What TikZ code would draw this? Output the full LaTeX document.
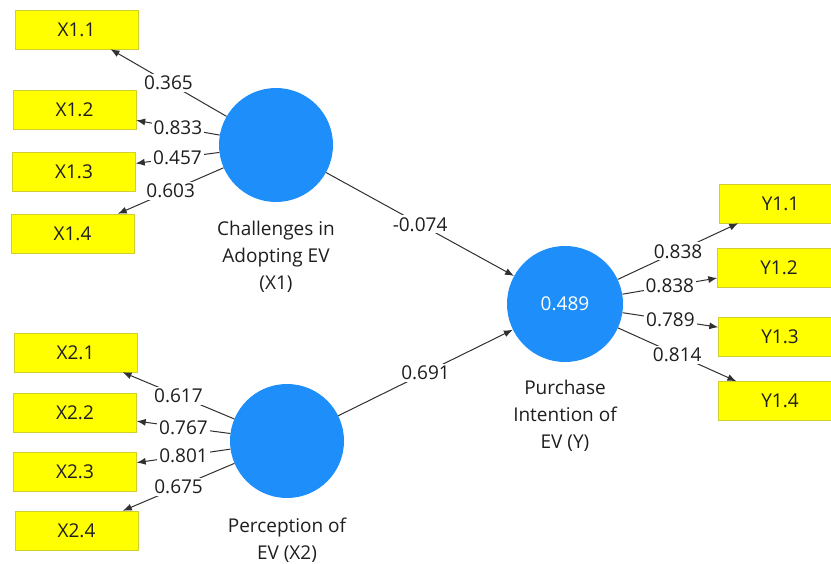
\documentclass[tikz,border=0pt]{standalone}
\usepackage{fontspec}
\setmainfont{Open Sans}
\usetikzlibrary{positioning,arrows.meta}
\definecolor{BoxYellow}{HTML}{FFFF00}
\definecolor{BoxEdge}{HTML}{CFCF30}
\definecolor{LatentBlue}{HTML}{1E8FFA}
\definecolor{LineGray}{HTML}{303030}
\definecolor{TextDark}{HTML}{1E1E1E}

\tikzset{
  indicator/.style={draw=BoxEdge, fill=BoxYellow, minimum width=123pt,
    minimum height=39pt, inner sep=0pt, text=TextDark,
    font=\fontsize{19}{22}\selectfont},
  latent/.style={circle, fill=LatentBlue, minimum size=114pt, inner sep=0pt,
    text=white, font=\fontsize{19}{22}\selectfont},
  caption/.style={align=center, inner sep=0pt, text=TextDark,
    font=\fontsize{19}{27}\selectfont},
  link/.style={draw=LineGray, line width=1pt,
    -{Latex[length=9pt,width=7pt]}},
  coef/.style={fill=white, inner sep=2pt, text=TextDark,
    font=\fontsize{19}{22}\selectfont}
}

\begin{document}
\begin{tikzpicture}[x=1pt,y=-1pt]
  \useasboundingbox (0,0) rectangle (831,564);

  % constructs
  \node[latent] (X1) at (276,145) {};
  \node[latent] (X2) at (287,441) {};
  \node[latent, minimum size=116pt] (Y) at (565,304) {0.489};

  \node[caption, below=19pt of X1] (capX1) {Challenges in\\Adopting EV\\(X1)};
  \node[caption, below=20pt of X2] (capX2) {Perception of\\EV (X2)};
  \node[caption, below=18pt of Y] (capY) {Purchase\\Intention of\\EV (Y)};

  % indicators of X1
  \node[indicator] (x11) at (76.5,29.5) {X1.1};
  \node[indicator] (x12) at (74.5,109.5) {X1.2};
  \node[indicator] (x13) at (74,171.5) {X1.3};
  \node[indicator] (x14) at (72.5,233.5) {X1.4};

  % indicators of X2
  \node[indicator] (x21) at (75.5,352.5) {X2.1};
  \node[indicator] (x22) at (75,413) {X2.2};
  \node[indicator] (x23) at (75,471.5) {X2.3};
  \node[indicator] (x24) at (76.5,530.5) {X2.4};

  % indicators of Y
  \node[indicator] (y11) at (780.5,203.5) {Y1.1};
  \node[indicator] (y12) at (779,267.5) {Y1.2};
  \node[indicator] (y13) at (780,336.5) {Y1.3};
  \node[indicator] (y14) at (780,401) {Y1.4};

  % outer loadings
  \draw[link] (X1) -- node[coef] {0.365} (x11);
  \draw[link] (X1) -- node[coef] {0.833} (x12);
  \draw[link] (X1) -- node[coef] {0.457} (x13);
  \draw[link] (X1) -- node[coef] {0.603} (x14);

  \draw[link] (X2) -- node[coef] {0.617} (x21);
  \draw[link] (X2) -- node[coef] {0.767} (x22);
  \draw[link] (X2) -- node[coef] {0.801} (x23);
  \draw[link] (X2) -- node[coef] {0.675} (x24);

  \draw[link] (Y) -- node[coef] {0.838} (y11);
  \draw[link] (Y) -- node[coef] {0.838} (y12);
  \draw[link] (Y) -- node[coef] {0.789} (y13);
  \draw[link] (Y) -- node[coef] {0.814} (y14);

  % path coefficients
  \draw[link] (X1) -- node[coef] {-0.074} (Y);
  \draw[link] (X2) -- node[coef] {0.691} (Y);
\end{tikzpicture}
\end{document}
